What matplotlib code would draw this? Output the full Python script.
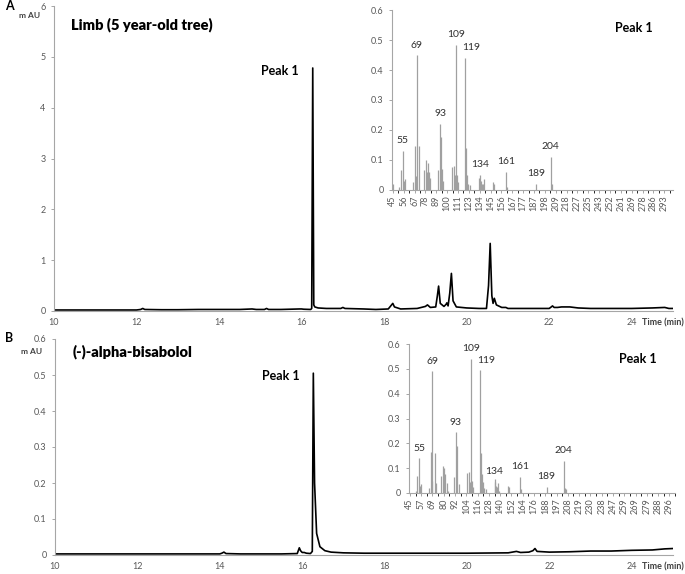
import numpy as np
import matplotlib
matplotlib.use('Agg')
import matplotlib.pyplot as plt

plt.rcParams['font.family'] = ['Lato', 'DejaVu Sans']

# chromatogram A: limb (5 year-old tree)
time_a = [10.0, 11.0, 12.0, 12.1, 12.15, 12.2, 12.6, 13.0, 13.5, 14.0, 14.5, 14.8, 14.85, 14.9,
          15.1, 15.15, 15.2, 15.5, 15.95, 16.0, 16.05, 16.22, 16.245, 16.27, 16.295, 16.32, 16.4,
          16.6, 16.95, 17.0, 17.05, 17.5, 17.8, 18.1, 18.18, 18.21, 18.25, 18.4, 18.8, 19.0, 19.05,
          19.12, 19.25, 19.29, 19.32, 19.36, 19.45, 19.5, 19.52, 19.55, 19.59, 19.63, 19.67, 19.75,
          20.0, 20.3, 20.48, 20.53, 20.57, 20.61, 20.64, 20.67, 20.72, 20.85, 20.95, 21.0, 21.2,
          21.5, 22.0, 22.05, 22.08, 22.12, 22.2, 22.3, 22.5, 22.7, 23.0, 23.5, 24.0, 24.5, 24.8,
          24.85, 24.9, 25.0]
mau_a = [0.02, 0.02, 0.02, 0.03, 0.05, 0.03, 0.025, 0.025, 0.03, 0.03, 0.03, 0.04, 0.035, 0.03,
         0.03, 0.05, 0.03, 0.03, 0.04, 0.04, 0.035, 0.03, 0.05, 4.78, 0.12, 0.08, 0.06,
         0.05, 0.05, 0.07, 0.05, 0.04, 0.03, 0.04, 0.12, 0.15, 0.08, 0.04, 0.05, 0.09, 0.12,
         0.07, 0.08, 0.3, 0.49, 0.15, 0.09, 0.13, 0.16, 0.1, 0.35, 0.74, 0.2, 0.08,
         0.06, 0.05, 0.05, 0.5, 1.33, 0.3, 0.15, 0.25, 0.12, 0.07, 0.07, 0.05, 0.05,
         0.05, 0.05, 0.08, 0.1, 0.07, 0.07, 0.08, 0.08, 0.06, 0.05, 0.05, 0.05, 0.06, 0.07,
         0.06, 0.05, 0.05]

# chromatogram B: (-)-alpha-bisabolol standard
time_b = [10, 11, 12, 13, 14, 14.05, 14.1, 14.15, 14.5, 15, 15.5, 15.88, 15.93, 15.96, 16.0, 16.05,
          16.1, 16.2, 16.245, 16.27, 16.3, 16.35, 16.43, 16.55, 16.7, 17.0, 17.5, 18, 19, 20, 21,
          21.2, 21.3, 21.5, 21.6, 21.65, 21.7, 22.0, 22.5, 23.0, 23.5, 24.0, 24.5, 24.8, 25.0]
mau_b = [0.003, 0.003, 0.003, 0.003, 0.003, 0.005, 0.008, 0.004, 0.003, 0.003, 0.003, 0.004, 0.02,
         0.012, 0.007, 0.007, 0.005, 0.004, 0.01, 0.505, 0.2, 0.06, 0.023, 0.012, 0.008, 0.006,
         0.005, 0.005, 0.005, 0.005, 0.006, 0.01, 0.007, 0.008, 0.012, 0.018, 0.01, 0.008, 0.009,
         0.011, 0.011, 0.013, 0.014, 0.017, 0.018]

# mass spectra of peak 1
mz_ticks_a = [45, 56, 67, 78, 89, 100, 111, 123, 134, 145, 156, 167, 177, 187, 198, 209, 218, 227,
              235, 243, 252, 261, 269, 278, 286, 293]
mz_a = [45, 51, 53, 55, 56, 57, 65, 67, 68, 69, 71, 77, 79, 80, 81, 82, 83, 91, 93, 94, 95, 96,
        105, 107, 108, 109, 110, 111, 119, 120, 121, 122, 124, 133, 134, 135, 136, 137, 138, 147,
        148, 161, 162, 189, 204, 205]
int_a = [0.02, 0.01, 0.065, 0.13, 0.03, 0.035, 0.025, 0.145, 0.045, 0.45, 0.145, 0.065, 0.1, 0.06,
         0.09, 0.06, 0.04, 0.065, 0.22, 0.175, 0.07, 0.03, 0.075, 0.08, 0.05, 0.485, 0.05, 0.025,
         0.44, 0.14, 0.05, 0.02, 0.015, 0.04, 0.05, 0.03, 0.02, 0.02, 0.035, 0.025, 0.02, 0.06,
         0.01, 0.02, 0.11, 0.02]

mz_ticks_b = [45, 57, 69, 80, 92, 104, 116, 128, 140, 152, 164, 176, 188, 197, 208, 219, 230, 238,
              247, 259, 269, 279, 288, 296]
mz_b = [51, 53, 55, 56, 57, 65, 67, 68, 69, 71, 72, 77, 79, 80, 81, 83, 85, 91, 93, 94, 96, 105,
        107, 108, 109, 110, 111, 119, 120, 121, 122, 123, 125, 134, 135, 136, 137, 138, 139, 148,
        149, 161, 162, 189, 204, 205, 206]
int_b = [0.01, 0.07, 0.14, 0.03, 0.035, 0.02, 0.165, 0.05, 0.49, 0.16, 0.04, 0.07, 0.11, 0.1,
         0.075, 0.04, 0.01, 0.065, 0.245, 0.19, 0.035, 0.08, 0.085, 0.045, 0.54, 0.05, 0.025,
         0.495, 0.16, 0.075, 0.045, 0.02, 0.015, 0.045, 0.055, 0.03, 0.025, 0.04, 0.01, 0.03,
         0.025, 0.065, 0.015, 0.025, 0.13, 0.02, 0.015]

labelled = [55, 69, 93, 109, 119, 134, 161, 189, 204]

W, H = 685, 574
grey = '#595959'
axcol = '#a6a6a6'

fig = plt.figure(figsize=(W / 100, H / 100), dpi=100)


def box(l, t, r, b):
    return [l / W, 1 - b / H, (r - l) / W, (b - t) / H]


def style(ax):
    for s in ['top', 'right']:
        ax.spines[s].set_visible(False)
    for s in ['left', 'bottom']:
        ax.spines[s].set_color(axcol)
        ax.spines[s].set_linewidth(0.8)
    ax.tick_params(colors=axcol, labelcolor=grey, labelsize=6.5, length=2.5, width=0.7)


def chrom(rect, t, y, ymax, ystep, yfmt):
    ax = fig.add_axes(rect)
    ax.plot(t, y, color='black', lw=1.2)
    ax.set_xlim(10, 25)
    ax.set_ylim(0, ymax)
    ax.set_xticks(np.arange(10, 25, 2))
    ax.set_yticks(np.arange(0, ymax + ystep / 2, ystep))
    ax.set_yticklabels([yfmt(v) for v in np.arange(0, ymax + ystep / 2, ystep)])
    style(ax)
    ax.tick_params(axis='x', length=0, pad=5)
    ax.annotate('Time (min)', (1.0, 0), xycoords='axes fraction', xytext=(11, -12),
                textcoords='offset pixels', ha='right', va='center',
                fontsize=6.5, fontweight='bold', color='#404040')
    ax.annotate('Peak 1', (16.27, max(y)), xytext=(-33, -3), textcoords='offset pixels',
                ha='center', va='center', fontsize=9, fontweight='bold')
    return ax


def spectrum(rect, ticks, mz, inten, xmax):
    ax = fig.add_axes(rect)
    ax.patch.set_visible(False)
    pos = np.interp(mz, ticks, np.arange(len(ticks)))
    ax.vlines(pos, 0, inten, color='#a0a0a0', lw=0.9)
    ax.set_xlim(-0.08, xmax)
    ax.set_ylim(0, 0.6)
    ax.set_xticks(np.arange(len(ticks)))
    ax.set_xticks(np.arange(len(ticks)) + 0.5, minor=True)
    ax.set_xticklabels([str(v) for v in ticks], rotation=90)
    ax.set_yticks(np.arange(0, 0.61, 0.1))
    ax.set_yticklabels(['0'] + ['%.1f' % v for v in np.arange(0.1, 0.61, 0.1)])
    style(ax)
    ax.tick_params(axis='x', which='both', length=2, pad=2)
    for m in labelled:
        i = mz.index(m)
        dx = 6 if m == 119 else 0
        ax.annotate(str(m), (pos[i], inten[i]), xytext=(dx, 10), textcoords='offset pixels',
                    ha='center', va='center', fontsize=7.5, color='#303030')
    ax.text(0.86, 0.9, 'Peak 1', transform=ax.transAxes, ha='center', va='center',
            fontsize=9, fontweight='bold')
    return ax


ax_a = chrom(box(54, 6, 673, 311), time_a, mau_a, 6, 1, lambda v: '%d' % v)
ax_b = chrom(box(55, 339, 673, 555), time_b, mau_b, 0.6, 0.1,
             lambda v: '0' if v == 0 else '%.1f' % v)

ins_a = spectrum(box(392, 10, 673, 190), mz_ticks_a, mz_a, int_a, 25.8)
ins_b = spectrum(box(409, 344, 675, 493), mz_ticks_b, mz_b, int_b, 23.27)

fig.text(71 / W, 1 - 25 / H, 'Limb (5 year-old tree)', fontsize=10.5, fontweight='heavy',
         va='center', ha='left')
fig.text(73 / W, 1 - 352 / H, '(-)-alpha-bisabolol', fontsize=10.5, fontweight='heavy',
         va='center', ha='left')
fig.text(5 / W, 1 - 6 / H, 'A', fontsize=9, fontweight='bold', va='center')
fig.text(5 / W, 1 - 338 / H, 'B', fontsize=9, fontweight='bold', va='center')
fig.text(30 / W, 1 - 15 / H, 'm AU', fontsize=6, fontweight='bold', va='center', ha='center',
         color='#404040')
fig.text(32 / W, 1 - 352 / H, 'm AU', fontsize=6, fontweight='bold', va='center', ha='center',
         color='#404040')

fig.savefig('out.png', dpi=100)
